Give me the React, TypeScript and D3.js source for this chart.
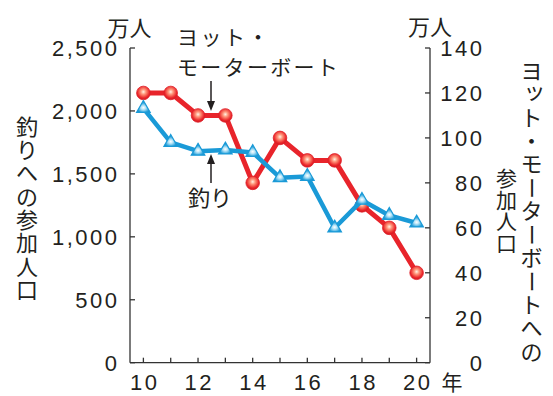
import React from "react";
import * as d3 from "d3";

const years = [10, 11, 12, 13, 14, 15, 16, 17, 18, 19, 20];
const fishing = [2020, 1750, 1680, 1690, 1670, 1470, 1480, 1070, 1290, 1170, 1110];
const yacht = [120, 120, 110, 110, 80, 100, 90, 90, 70, 60, 40];
const leftTicks = [0, 500, 1000, 1500, 2000, 2500];
const rightTicks = [0, 20, 40, 60, 80, 100, 120, 140];
const xTicks = [10, 12, 14, 16, 18, 20];
const xMinorTicks = [10, 11, 12, 13, 14, 15, 16, 17, 18, 19, 20];
const leftTitle = "釣りへの参加人口";
const rightTitle1 = "ヨット・モーターボートへの";
const rightTitle2 = "参加人口";
const yachtLabel1 = "ヨット・";
const yachtLabel2 = "モーターボート";
const fishLabel = "釣り";
const unitLabel = "万人";
const yearLabel = "年";

const W = 553;
const H = 396;
const L = 130;
const R = 430;
const T = 48;
const B = 362.7;

const NUM = "'Liberation Sans', Arial, sans-serif";
const JP = "'Noto Sans CJK JP', sans-serif";
const AX = "#333";

function VText({ text, x, y0, pitch, size }: { text: string; x: number; y0: number; pitch: number; size: number }) {
  return (
    <g>
      {Array.from(text).map((c, i) => {
        const y = y0 + i * pitch;
        if (c === "ー") {
          return (
            <text key={i} x={0} y={0} transform={`translate(${x},${y}) rotate(90)`} textAnchor="middle" dy="0.35em" fontSize={size} fontFamily={JP} fill="#231f20">
              {c}
            </text>
          );
        }
        let dx = 0;
        let dy = 0;
        if (c === "ッ") {
          dx = 3;
          dy = -3;
        }
        return (
          <text key={i} x={x + dx} y={y + dy} textAnchor="middle" dy="0.35em" fontSize={size} fontFamily={JP} fill="#231f20">
            {c}
          </text>
        );
      })}
    </g>
  );
}

export default function App() {
  const x = d3.scaleLinear().domain([9.51, 20.49]).range([L, R]);
  const yL = d3.scaleLinear().domain([0, 2500]).range([B, T]);
  const yR = d3.scaleLinear().domain([0, 140]).range([B, T]);

  const lineL = d3
    .line<number>()
    .x((_, i) => x(years[i]))
    .y((d) => yL(d));
  const lineR = d3
    .line<number>()
    .x((_, i) => x(years[i]))
    .y((d) => yR(d));

  const tri = d3.symbol().type(d3.symbolTriangle).size(80)() as string;
  const ls = 2.5;

  return (
    <svg width={W} height={H} style={{ position: "absolute", left: 0, top: 0, background: "#fff" }}>
      <defs>
        <radialGradient id="redG" cx="50%" cy="42%" r="58%">
          <stop offset="0" stopColor="#fff3e6" />
          <stop offset="0.3" stopColor="#ff9a7e" />
          <stop offset="0.75" stopColor="#ec2a2c" />
          <stop offset="1" stopColor="#cf1520" />
        </radialGradient>
        <radialGradient id="blueG" cx="50%" cy="60%" r="55%">
          <stop offset="0" stopColor="#ffffff" />
          <stop offset="0.3" stopColor="#b8e4f7" />
          <stop offset="0.75" stopColor="#2aa3dc" />
          <stop offset="1" stopColor="#1589c6" />
        </radialGradient>
      </defs>

      {/* axes */}
      <line x1={L} y1={T} x2={L} y2={B} stroke={AX} strokeWidth={1.3} />
      <line x1={R} y1={T} x2={R} y2={B} stroke={AX} strokeWidth={1.3} />
      <line x1={L} y1={B} x2={R} y2={B} stroke={AX} strokeWidth={1.3} />

      {leftTicks.map((t) => (
        <g key={"l" + t}>
          <line x1={L} x2={L + 5} y1={yL(t)} y2={yL(t)} stroke={AX} strokeWidth={1.3} />
          <text x={117 + ls} y={yL(t)} dy="0.36em" textAnchor="end" fontSize={22} fontFamily={NUM} fill="#231f20" letterSpacing={ls}>
            {d3.format(",")(t)}
          </text>
        </g>
      ))}
      {rightTicks.map((t) => (
        <g key={"r" + t}>
          <line x1={R - 5} x2={R} y1={yR(t)} y2={yR(t)} stroke={AX} strokeWidth={1.3} />
          <text x={482 + ls} y={yR(t)} dy="0.36em" textAnchor="end" fontSize={22} fontFamily={NUM} fill="#231f20" letterSpacing={ls}>
            {t}
          </text>
        </g>
      ))}
      {xMinorTicks.map((t) => (
        <line key={"xm" + t} x1={x(t)} x2={x(t)} y1={B} y2={B - 5} stroke={AX} strokeWidth={1.3} />
      ))}
      {xTicks.map((t) => (
        <text key={"x" + t} x={x(t) + ls / 2} y={382.5} dy="0.36em" textAnchor="middle" fontSize={22} fontFamily={NUM} fill="#231f20" letterSpacing={ls}>
          {t}
        </text>
      ))}
      <text x={452} y={382.5} dy="0.35em" textAnchor="middle" fontSize={21} fontFamily={JP} fill="#231f20">
        {yearLabel}
      </text>
      <text x={129.5} y={28} dy="0.35em" textAnchor="middle" fontSize={22} fontFamily={JP} fill="#231f20">
        {unitLabel}
      </text>
      <text x={430} y={27} dy="0.35em" textAnchor="middle" fontSize={22} fontFamily={JP} fill="#231f20">
        {unitLabel}
      </text>

      {/* titles */}
      <VText text={leftTitle} x={27} y0={127} pitch={23.3} size={22} />
      <VText text={rightTitle1} x={531.5} y0={71} pitch={23.4} size={22} />
      <VText text={rightTitle2} x={506.5} y0={179} pitch={21.5} size={21} />

      {/* annotations */}
      <text x={177} y={38} dy="0.35em" fontSize={21} fontFamily={JP} fill="#231f20" letterSpacing={2.5}>
        {yachtLabel1}
      </text>
      <text x={177} y={68} dy="0.35em" fontSize={21} fontFamily={JP} fill="#231f20" letterSpacing={2.3}>
        {yachtLabel2}
      </text>
      <line x1={211} y1={81} x2={211} y2={104} stroke="#231f20" strokeWidth={1.5} />
      <path d="M207,101 L215,101 L211,111 Z" fill="#231f20" />
      <line x1={211} y1={162} x2={211} y2={183} stroke="#231f20" strokeWidth={1.5} />
      <path d="M207,164 L215,164 L211,154 Z" fill="#231f20" />
      <text x={210} y={198} dy="0.35em" textAnchor="middle" fontSize={22} fontFamily={JP} fill="#231f20">
        {fishLabel}
      </text>

      {/* yacht series */}
      <path d={lineR(yacht) || ""} fill="none" stroke="#e8242b" strokeWidth={5} strokeLinejoin="round" />
      {yacht.map((v, i) => (
        <circle key={"c" + i} cx={x(years[i])} cy={yR(v)} r={6.8} fill="url(#redG)" stroke="#e02028" strokeWidth={0.8} />
      ))}

      {/* fishing series */}
      <path d={lineL(fishing) || ""} fill="none" stroke="#1a9ad7" strokeWidth={4.5} strokeLinejoin="round" />
      {fishing.map((v, i) => (
        <path key={"t" + i} d={tri} transform={`translate(${x(years[i])},${yL(v)})`} fill="url(#blueG)" stroke="#1a9ad7" strokeWidth={1.2} />
      ))}
    </svg>
  );
}
